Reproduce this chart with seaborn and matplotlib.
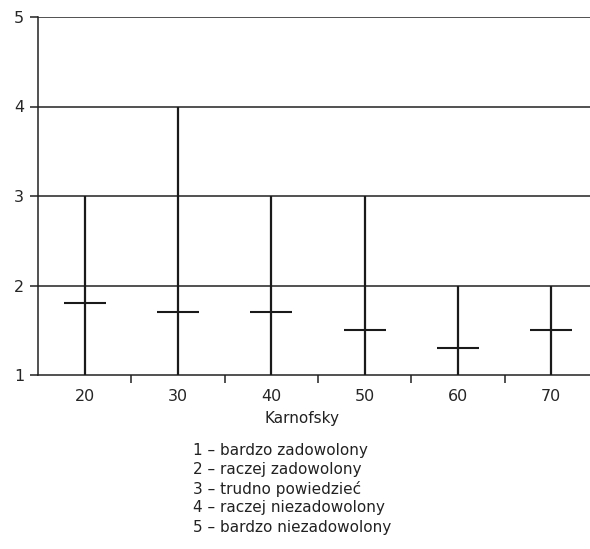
import numpy as np
import pandas as pd
import matplotlib.pyplot as plt
import seaborn as sns

karnofsky = ["20", "30", "40", "50", "60", "70"]
low = [1, 1, 1, 1, 1, 1]
high = [3, 4, 3, 3, 2, 2]
mean = [1.8, 1.7, 1.7, 1.5, 1.3, 1.5]
legend_lines = [
    "1 – bardzo zadowolony",
    "2 – raczej zadowolony",
    "3 – trudno powiedzieć",
    "4 – raczej niezadowolony",
    "5 – bardzo niezadowolony",
]

df = pd.DataFrame({"k": karnofsky, "low": low, "high": high, "mean": mean})

sns.set_style("white")
plt.rcParams["font.family"] = ["DejaVu Sans"]

fig = plt.figure(figsize=(5.9, 5.49), dpi=100)
ax = fig.add_axes([38 / 590, 1 - 375 / 549, (598 - 38) / 590, (375 - 17) / 549])

pos = np.arange(len(df))
ax.vlines(pos, df["low"], df["high"], color="#1a1a1a", linewidth=1.6, zorder=3)
sns.scatterplot(x=pos, y=df["mean"], marker="_", s=900, color="#1a1a1a",
                linewidth=1.5, ax=ax, zorder=4, legend=False)

ax.set_ylim(1, 5)
ax.set_yticks([1, 2, 3, 4, 5])
ax.set_xlim(-0.5, len(df) - 0.5)
ax.set_xticks(pos)
ax.set_xticklabels(karnofsky)
ax.set_xticks(np.arange(len(df) - 1) + 0.5, minor=True)
for y in [2, 3, 4, 5]:
    ax.axhline(y, color="#333333", linewidth=1.2, zorder=1)

for s in ["top", "right"]:
    ax.spines[s].set_visible(False)
ax.spines["left"].set_color("#222222")
ax.spines["bottom"].set_color("#222222")
ax.spines["left"].set_linewidth(1.1)
ax.spines["bottom"].set_linewidth(1.1)

ax.tick_params(axis="y", which="major", length=6, width=1.1, color="#222222",
               labelsize=11.5, pad=4, left=True)
ax.tick_params(axis="x", which="major", length=0, labelsize=11.5, pad=10)
ax.tick_params(axis="x", which="minor", length=6, width=1.1, color="#222222",
               bottom=True, direction="out")
ax.set_xlabel("Karnofsky", fontsize=11, color="#222222")
ax.xaxis.set_label_coords((302 - 38) / 560, -(418 - 375) / 358)
ax.xaxis.label.set_va("center")
ax.set_ylabel("")

for i, line in enumerate(legend_lines):
    fig.text(193 / 590, 1 - (450 + i * 19.3) / 549, line, fontsize=11,
             ha="left", va="center", color="#222222")

fig.savefig("out.png", dpi=100)
